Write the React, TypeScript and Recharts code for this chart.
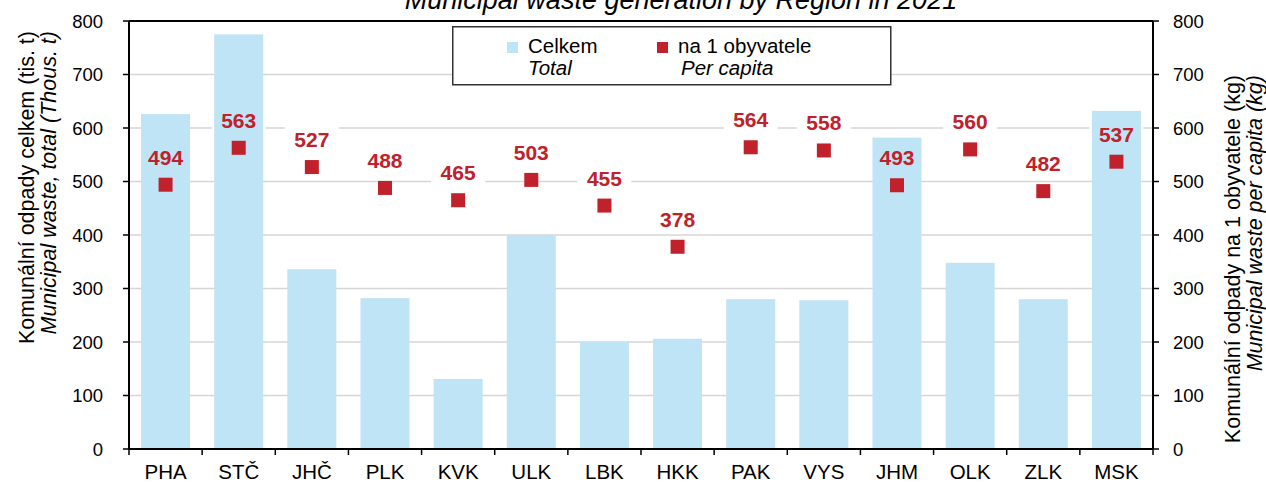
import { ComposedChart, Bar, Line, XAxis, YAxis, CartesianGrid, ReferenceLine, LabelList, Legend } from 'recharts';

const regions = ['PHA', 'STČ', 'JHČ', 'PLK', 'KVK', 'ULK', 'LBK', 'HKK', 'PAK', 'VYS', 'JHM', 'OLK', 'ZLK', 'MSK'];
const totalWaste = [626, 775, 336, 282, 131, 400, 200, 206, 280, 278, 582, 348, 280, 632];
const perCapita = [494, 563, 527, 488, 465, 503, 455, 378, 564, 558, 493, 560, 482, 537];
const axisTicks = [0, 100, 200, 300, 400, 500, 600, 700, 800];

const FONT = '"Liberation Sans", Arial, sans-serif';
const BLUE = '#bfe4f6';
const RED = '#c0212b';

const data = regions.map((region, i) => ({
  region,
  total: totalWaste[i],
  perCapita: perCapita[i],
}));

// x tick: label in the middle, tick marks on the category edges
const RegionTick = (props: any) => {
  const { x, y, payload, index } = props;
  const half = payload.offset || 0;
  return (
    <g>
      <line x1={x - half} y1={y} x2={x - half} y2={y + 6} stroke="#000" strokeWidth={1.5} />
      {index === regions.length - 1 && (
        <line x1={x + half} y1={y} x2={x + half} y2={y + 6} stroke="#000" strokeWidth={1.5} />
      )}
      <text x={x} y={y + 30} textAnchor="middle" fontSize={20.5} fontFamily={FONT} fill="#000">
        {payload.value}
      </text>
    </g>
  );
};

// bar + the white box that sits behind the per-capita label (so the bar covers it)
// both axes run 0-800, so the bar's own scale gives the marker position
const BarWithBox = (props: any) => {
  const { x, y, width, height, payload, fill } = props;
  const pxPerUnit = payload.total ? height / payload.total : 0;
  const cx = x + width / 2;
  const cy = y + height - payload.perCapita * pxPerUnit;
  return (
    <g>
      <rect x={cx - 27} y={cy - 42} width={54} height={26} fill="#fff" />
      <rect x={x} y={y} width={width} height={height} fill={fill} />
    </g>
  );
};

const SquareDot = (props: any) => {
  const { cx, cy, index } = props;
  if (cx == null || cy == null) return <g key={`sq-${index}`} />;
  return <rect key={`sq-${index}`} x={cx - 7} y={cy - 7} width={14} height={14} fill={RED} />;
};

const ValueLabel = (props: any) => {
  const { x, y, value } = props;
  return (
    <text x={x} y={y - 20} textAnchor="middle" fontSize={21} fontWeight="bold" fontFamily={FONT} fill={RED}>
      {value}
    </text>
  );
};

const LegendBox = () => (
  <svg width={440} height={60} style={{ display: 'block' }}>
    <rect x={0.75} y={0.75} width={438} height={58} fill="#fff" stroke="#333" strokeWidth={1.5} />
    <rect x={55} y={16} width={11} height={11} fill={BLUE} />
    <text x={76} y={27} fontSize={20.5} fontFamily={FONT} fill="#000">Celkem</text>
    <text x={76} y={49} fontSize={20.5} fontFamily={FONT} fontStyle="italic" fill="#000">Total</text>
    <rect x={205} y={16} width={11} height={11} fill={RED} />
    <text x={226} y={27} fontSize={20.5} fontFamily={FONT} fill="#000">na 1 obyvatele</text>
    <text x={229} y={49} fontSize={20.5} fontFamily={FONT} fontStyle="italic" fill="#000">Per capita</text>
  </svg>
);

const tickStyle = { fontSize: 18.5, fontFamily: FONT, fill: '#000' };

const App = () => {
  return (
    <div style={{ position: 'absolute', left: 0, top: 0, width: 1266, height: 482, background: '#fff' }}>
      <ComposedChart width={1266} height={482} data={data} margin={{ top: 21, right: 0, bottom: 0, left: 0 }} barCategoryGap="16.5%">
        <CartesianGrid yAxisId="left" vertical={false} stroke="#d6d6d6" strokeWidth={1.5} />
        <XAxis
          dataKey="region"
          height={33}
          axisLine={{ stroke: '#000', strokeWidth: 2 }}
          tickLine={false}
          tickSize={0}
          tickMargin={0}
          interval={0}
          tick={<RegionTick />}
        />
        <YAxis
          yAxisId="left"
          width={129}
          domain={[0, 800]}
          ticks={axisTicks}
          allowDataOverflow
          axisLine={{ stroke: '#000', strokeWidth: 2 }}
          tickLine={{ stroke: '#000', strokeWidth: 1.5 }}
          tickSize={6}
          tickMargin={20}
          tick={tickStyle}
        />
        <YAxis
          yAxisId="right"
          orientation="right"
          width={113}
          domain={[0, 800]}
          ticks={axisTicks}
          allowDataOverflow
          axisLine={{ stroke: '#000', strokeWidth: 2 }}
          tickLine={{ stroke: '#000', strokeWidth: 1.5 }}
          tickSize={6}
          tickMargin={14}
          tick={{ ...tickStyle, textAnchor: 'start' }}
        />
        <ReferenceLine yAxisId="left" y={800} stroke="#000" strokeWidth={2} />
        <Bar yAxisId="left" dataKey="total" name="Celkem" fill={BLUE} shape={BarWithBox} isAnimationActive={false} />
        <Line
          yAxisId="right"
          dataKey="perCapita"
          name="na 1 obyvatele"
          stroke="none"
          dot={SquareDot}
          activeDot={false}
          isAnimationActive={false}
        >
          <LabelList dataKey="perCapita" content={ValueLabel} />
        </Line>
        <Legend
          layout="vertical"
          align="center"
          verticalAlign="middle"
          content={<LegendBox />}
          wrapperStyle={{ position: 'absolute', left: 452, top: 26, width: 440, height: 60 }}
        />
      </ComposedChart>
      <svg width={1266} height={482} style={{ position: 'absolute', left: 0, top: 0, pointerEvents: 'none' }}>
        <text x={681} y={9} textAnchor="middle" fontSize={27} fontStyle="italic" fontFamily={FONT} fill="#000">
          Municipal waste generation by Region in 2021
        </text>
        <text transform="translate(34,31) rotate(-90)" textAnchor="end" fontSize={21.5} fontFamily={FONT} fill="#000">
          Komunální odpady celkem (tis. t)
        </text>
        <text transform="translate(56,31) rotate(-90)" textAnchor="end" fontSize={21.5} fontStyle="italic" fontFamily={FONT} fill="#000">
          Municipal waste, total (Thous. t)
        </text>
        <text transform="translate(1240,75) rotate(-90)" textAnchor="end" fontSize={21.5} fontFamily={FONT} fill="#000">
          Komunální odpady na 1 obyvatele (kg)
        </text>
        <text transform="translate(1262,75) rotate(-90)" textAnchor="end" fontSize={21.5} fontStyle="italic" fontFamily={FONT} fill="#000">
          Municipal waste per capita (kg)
        </text>
      </svg>
    </div>
  );
};

export default App;
